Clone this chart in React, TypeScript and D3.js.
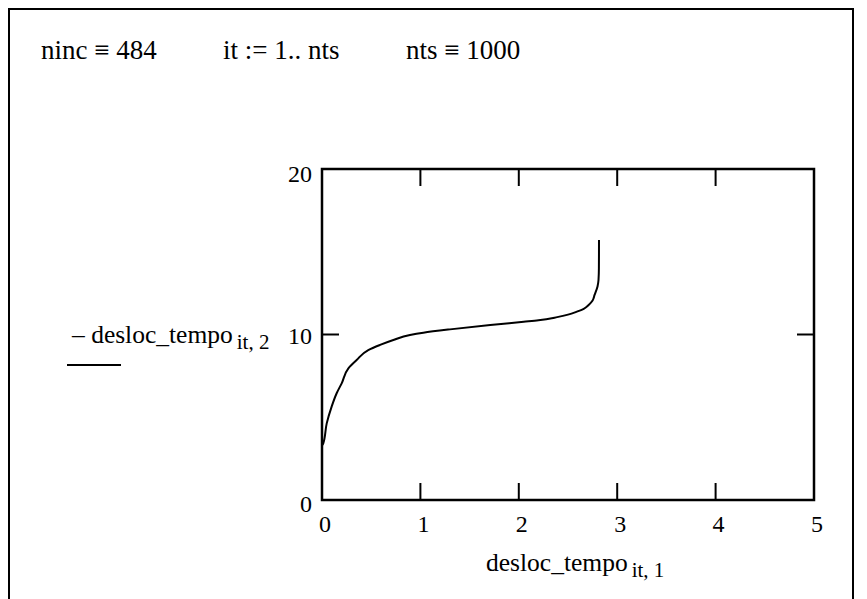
import React, { useEffect, useRef } from 'react';
import * as d3 from 'd3';

// desloc_tempo column 1 (x) and column 2 (y)
const deslocX = [0, 0.013, 0.048, 0.098, 0.149, 0.2, 0.268, 0.352, 0.47, 0.59, 0.725, 0.894, 1.03, 1.3, 1.71, 2.05, 2.2, 2.39, 2.5, 2.59, 2.66, 2.71, 2.75, 2.77, 2.8, 2.81, 2.814, 2.815];
const deslocY = [3.3, 3.42, 4.63, 5.64, 6.45, 7.05, 7.96, 8.46, 9.06, 9.37, 9.67, 9.97, 10.11, 10.31, 10.57, 10.77, 10.86, 11.05, 11.2, 11.38, 11.55, 11.78, 12.05, 12.39, 12.9, 13.29, 14.0, 15.71];

const xTicks = [0, 1, 2, 3, 4, 5];
const yTicks = [0, 10, 20];
const headerTexts = ['ninc \u2261 484', 'it := 1.. nts', 'nts \u2261 1000'];

const W = 867;
const H = 599;
const FONT = 'Liberation Serif, Times New Roman, serif';

const App = () => {
  const ref = useRef<SVGSVGElement>(null);

  useEffect(() => {
    const svg = d3.select(ref.current);
    svg.selectAll('*').remove();

    // outer worksheet frame
    svg.append('rect')
      .attr('x', 9).attr('y', 9)
      .attr('width', 844).attr('height', 620)
      .attr('fill', 'none').attr('stroke', '#000').attr('stroke-width', 2);

    // header definitions
    const headerX = [41, 223, 406];
    headerTexts.forEach((t, i) => {
      svg.append('text')
        .attr('x', headerX[i])
        .attr('y', 59)
        .attr('font-family', FONT)
        .attr('font-size', 27)
        .text(t);
    });

    const left = 322, right = 814, top = 169, bottom = 500;
    const x = d3.scaleLinear().domain([0, 5]).range([left, right]);
    const y = d3.scaleLinear().domain([0, 20]).range([bottom, top]);
    const tickLen = 17;

    const g = svg.append('g');

    // plot box
    g.append('rect')
      .attr('x', left).attr('y', top)
      .attr('width', right - left).attr('height', bottom - top)
      .attr('fill', 'none').attr('stroke', '#000').attr('stroke-width', 2.5);

    // x ticks, bottom (up) and top (down)
    const inner = xTicks.filter(t => t > 0 && t < 5);
    g.selectAll('.xtb').data(inner).enter().append('line')
      .attr('x1', d => x(d)).attr('x2', d => x(d))
      .attr('y1', bottom).attr('y2', bottom - tickLen)
      .attr('stroke', '#000').attr('stroke-width', 2);
    g.selectAll('.xtt').data(inner).enter().append('line')
      .attr('x1', d => x(d)).attr('x2', d => x(d))
      .attr('y1', top).attr('y2', top + tickLen)
      .attr('stroke', '#000').attr('stroke-width', 2);

    // y ticks, left and right
    const yInner = yTicks.filter(t => t > 0 && t < 20);
    g.selectAll('.ytl').data(yInner).enter().append('line')
      .attr('x1', left).attr('x2', left + tickLen)
      .attr('y1', d => y(d)).attr('y2', d => y(d))
      .attr('stroke', '#000').attr('stroke-width', 2);
    g.selectAll('.ytr').data(yInner).enter().append('line')
      .attr('x1', right).attr('x2', right - tickLen)
      .attr('y1', d => y(d)).attr('y2', d => y(d))
      .attr('stroke', '#000').attr('stroke-width', 2);

    // tick labels
    g.selectAll('.xl').data(xTicks).enter().append('text')
      .attr('x', d => x(d) + 3)
      .attr('y', 532)
      .attr('text-anchor', 'middle')
      .attr('font-family', FONT).attr('font-size', 24)
      .text(d => d);

    g.selectAll('.yl').data(yTicks).enter().append('text')
      .attr('x', 312)
      .attr('y', d => d === 0 ? 512 : d === 20 ? 182 : y(d) + 9)
      .attr('text-anchor', 'end')
      .attr('font-family', FONT).attr('font-size', 24)
      .text(d => d);

    // curve (y rises monotonically, so interpolate along y)
    const pts = deslocX.map((d, i) => [d, deslocY[i]] as [number, number]);
    const line = d3.line<[number, number]>()
      .x(d => x(d[0]))
      .y(d => y(d[1]))
      .curve(d3.curveMonotoneY);
    g.append('path')
      .datum(pts)
      .attr('d', line)
      .attr('fill', 'none')
      .attr('stroke', '#000')
      .attr('stroke-width', 2);

    // y axis label with legend line
    const yl = svg.append('text')
      .attr('x', 72).attr('y', 343)
      .attr('font-family', FONT).attr('font-size', 25.5);
    yl.append('tspan').text('\u2013 desloc_tempo');
    yl.append('tspan').attr('dx', 4).attr('dy', 6).attr('font-size', 21).text('it, 2');
    svg.append('line')
      .attr('x1', 67).attr('x2', 121)
      .attr('y1', 365).attr('y2', 365)
      .attr('stroke', '#000').attr('stroke-width', 2);

    // x axis label
    const xl = svg.append('text')
      .attr('x', 486).attr('y', 571)
      .attr('font-family', FONT).attr('font-size', 25.5);
    xl.append('tspan').text('desloc_tempo');
    xl.append('tspan').attr('dx', 4).attr('dy', 6).attr('font-size', 21).text('it, 1');
  }, []);

  return (
    <svg
      ref={ref}
      width={W}
      height={H}
      style={{ position: 'absolute', left: 0, top: 0, background: '#fff' }}
    />
  );
};

export default App;
